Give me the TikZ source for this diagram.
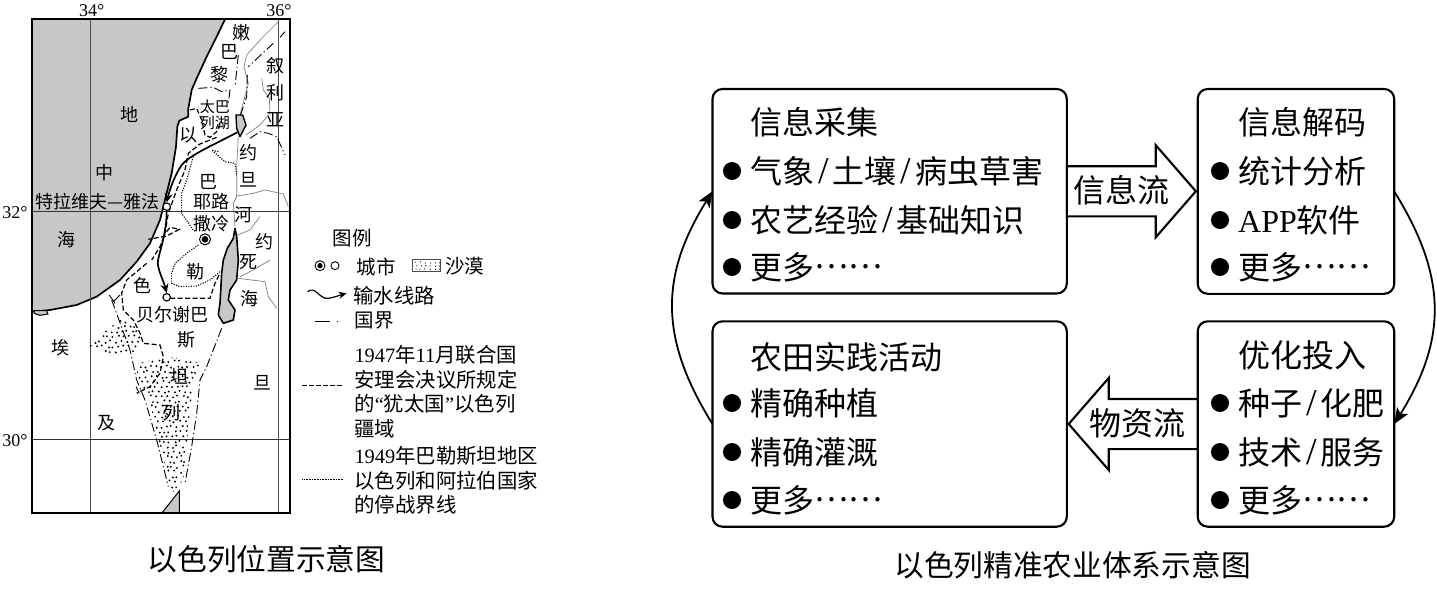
\documentclass[tikz,border=0pt]{standalone}
\usepackage{fontspec}
\usetikzlibrary{shapes.arrows,arrows.meta}
\setmainfont{Liberation Serif}
\newfontfamily\cjk{Noto Sans CJK SC}
\newcommand{\fs}[1]{\fontsize{#1}{#1}\selectfont\cjk}
\newcommand{\lat}[1]{{\fontspec{Liberation Serif}#1}}
\newcommand{\slsh}{\hspace{4pt}{\fontsize{38}{38}\selectfont\lat{/}}\hspace{4pt}}
\newcommand{\dotsx}{\raisebox{11pt}{……}}
\definecolor{sea}{gray}{0.78}
\definecolor{river}{gray}{0.5}
\tikzset{
 zmap/.style={shift={(20,0)},x=0.33333pt,y=-0.33333pt},
 zleg/.style={shift={(295,220)},x=0.33333pt,y=-0.33333pt},
 box/.style={draw,line width=2.1pt,rounded corners=10pt,anchor=north west,inner sep=0pt,outer sep=0pt},
 btxt/.style={anchor=west,inner sep=0pt,font=\fs{32}},
 bul/.style={circle,fill=black,inner sep=0pt,minimum size=18pt},
 flow/.style={draw,line width=2.1pt,fill=white,single arrow,single arrow tip angle=98,single arrow head extend=21pt,minimum height=129pt,text height=24pt,text depth=24pt,inner ysep=0pt,inner xsep=0pt,outer sep=0pt,font=\fs{32}},
 capt/.style={inner sep=0pt,font=\fs{29.7}},
 mlab/.style={inner sep=0pt,font=\fs{18}},
 mlabs/.style={inner sep=0pt,font=\fs{15}},
 leg/.style={inner sep=0pt,anchor=west,font=\fs{19.5}},
 legm/.style={leg,align=left,font=\fontsize{20.4}{24.5}\selectfont\cjk},
 deg/.style={inner sep=0pt,font=\fontsize{18}{18}\selectfont},
 bord/.style={line width=0.9pt,dash pattern=on 9pt off 3pt on 1.2pt off 3pt},
 part/.style={line width=1.2pt,dash pattern=on 5pt off 2.5pt},
 arm/.style={line width=1.1pt,dash pattern=on 1.1pt off 1.4pt},
 rvr/.style={line width=0.7pt,draw=river,line join=round},
 pipe/.style={line width=1.7pt},
 city/.style={circle,draw,line width=1.1pt,fill=white,inner sep=0pt,minimum size=7.5pt},
 curved/.style={line width=1.8pt,-{Stealth[length=16pt,width=13pt,inset=4pt]}},
}
\begin{document}
\begin{tikzpicture}[x=1pt,y=-1pt]
\useasboundingbox (0,0) rectangle (1437,594);
\fill[white] (0,0) rectangle (1437,594);
% ---------- map ----------
\begin{scope}[zmap]
 \fill[sea] (35,58) -- (615,58) -- (590,110) -- (560,170) -- (530,235) -- (515,270) -- (505,325) -- (505,350) -- (478,362) -- (472,380) -- (468,440) -- (455,520) -- (435,600) -- (420,660) -- (390,730) -- (350,785) -- (300,840) -- (230,890) -- (170,915) -- (90,930) -- (35,935) -- cycle;
 \draw[line width=1.7pt,line join=round] (615,58) -- (590,110) -- (560,170) -- (530,235) -- (515,270) -- (505,325) -- (505,350) -- (478,362) -- (472,380) -- (468,440) -- (455,520) -- (435,600) -- (420,660) -- (390,730) -- (350,785) -- (300,840) -- (230,890) -- (170,915) -- (90,930) -- (35,935);
 \draw[line width=1pt,fill=sea] (42,932) -- (80,932) -- (84,942) -- (60,946) -- (42,940) -- cycle;
 \draw[line width=1pt,fill=sea] (425,1540) -- (478,1473) -- (478,1540);
 % grid
 \draw[line width=1pt,draw=black!70] (210,58) -- (210,1540) (775,58) -- (775,1540);
 \draw[line width=0.8pt,draw=black!80] (35,633) -- (810,633) (35,1317) -- (810,1317);
 % rivers
 \draw[rvr] (775,65) -- (725,115) -- (680,165) -- (672,200) -- (685,250) -- (672,300) -- (660,345);
 \draw[rvr] (725,235) -- (730,270) -- (748,295) -- (750,340) -- (720,375) -- (678,405);
 \draw[rvr] (655,410) -- (650,500) -- (650,590) -- (640,610) -- (645,680);
 \draw[rvr] (650,588) -- (700,580) -- (735,570) -- (790,582) -- (805,620);
 \draw[rvr] (645,708) -- (690,690) -- (720,650);
 \draw[rvr] (660,830) -- (700,810) -- (750,780);
 \draw[rvr] (655,835) -- (735,845) -- (745,890) -- (770,925);
 % desert
 \begin{scope}
  \clip (205,1030) -- (300,960) -- (350,970) -- (365,1020) -- (345,1055) -- (280,1065) -- (205,1040) -- cycle
        (355,1090) -- (440,1070) -- (550,1090) -- (520,1150) -- (510,1230) -- (500,1340) -- (490,1440) -- (455,1480) -- (420,1340) -- (390,1210) -- (350,1130) -- cycle;
  \pgfmathsetseed{7}
  \foreach \i in {0,...,23}{\foreach \j in {0,...,36}{
   \pgfmathsetmacro{\px}{200+\i*16+mod(\j,2)*8+rnd*8-4}
   \pgfmathsetmacro{\py}{950+\j*15+rnd*8-4}
   \fill (\px,\py) circle[radius=3.2];
  }}
 \end{scope}
 % lakes
 \draw[line width=1.4pt,fill=sea,line join=round] (648,345) -- (668,345) -- (678,375) -- (660,410) -- (650,385) -- cycle;
 \draw[line width=1.6pt,fill=sea,line join=round] (645,685) -- (640,715) -- (622,745) -- (610,780) -- (605,820) -- (600,910) -- (595,945) -- (610,970) -- (640,960) -- (645,930) -- (625,900) -- (630,870) -- (650,840) -- (655,780) -- (650,710) -- cycle;
 % international borders
 \draw[bord] (795,95) -- (780,112) (760,130) -- (685,200) (682,225) -- (680,290) -- (660,350);
 \draw[bord] (690,415) -- (720,395) -- (745,400) -- (770,410) -- (795,465);
 \draw[bord] (535,265) -- (580,262) -- (605,275) -- (630,270) -- (625,310);
 \draw[bord] (655,165) -- (645,260);
 \draw[bord] (275,900) -- (330,1050) -- (350,1140) -- (375,1200) -- (410,1320) -- (445,1460);
 \draw[bord] (605,985) -- (560,1100) -- (540,1140) -- (530,1240) -- (515,1340) -- (495,1450);
 \draw[line width=0.9pt] (268,885) -- (285,910) (300,885) -- (280,905) (348,1160) -- (358,1180);
 % 1947 partition lines
 \draw[part] (510,330) -- (530,325) -- (545,360) -- (555,405) -- (570,412) -- (590,395) -- (605,360);
 \draw[part] (590,412) -- (540,432) -- (505,460) -- (495,510) -- (470,570) -- (445,640) -- (435,700) -- (420,740) -- (395,780);
 \draw[part] (440,695) -- (450,682) -- (478,688) -- (440,708) -- (385,718);
 \draw[part] (380,790) -- (320,840) -- (305,880) -- (310,930) -- (340,960) -- (360,1000) -- (370,1030) -- (420,1035) -- (430,1070) -- (420,1120) -- (390,1160) -- (350,1180);
 \draw[part] (450,895) -- (570,895) -- (585,850) -- (600,820);
 % 1949 armistice lines
 \draw[arm] (595,455) -- (575,450) -- (615,485) -- (645,490) -- (650,525);
 \draw[arm] (520,470) -- (500,540) -- (485,580) -- (485,640) -- (520,690);
 \draw[arm] (535,735) -- (500,760) -- (465,790) -- (455,820) -- (455,850) -- (480,860) -- (530,858) -- (570,840) -- (600,815);
 % cities
 \node[city] (telaviv) at (440,620) {};
 \node[city] (beersheba) at (440,892) {};
 \node[circle,draw,line width=1pt,fill=white,minimum size=11pt,inner sep=0pt] (jerusalem) at (555,718) {};
 \fill (jerusalem) circle[radius=10];
 % pipelines
 \coordinate (pa) at (652,397);
 \draw[pipe,-{Stealth[length=9pt,width=8pt]}] (pa) .. controls (570,440) and (510,465) .. (485,495) .. controls (465,525) and (450,565) .. (telaviv.north);
 \draw[pipe,-{Stealth[length=9pt,width=8pt]}] (telaviv.south) .. controls (440,720) and (405,780) .. (415,800) .. controls (420,825) and (430,840) .. (beersheba.north);
 % labels
 \node[mlab] (l1) at (665,97) {嫩};
 \node[mlab] (l2) at (630,155) {巴};
 \node[mlab] (l3) at (598,225) {黎};
 \node[mlab] (l4) at (765,197) {叙};
 \node[mlab] (l5) at (768,277) {利};
 \node[mlab] (l6) at (768,358) {亚};
 \node[mlabs] (l7) at (585,320) {太巴};
 \node[mlabs] (l8) at (585,370) {列湖};
 \node[mlab] (l9) at (505,405) {以};
 \node[mlab] (l10) at (327,343) {地};
 \node[mlab] (l11) at (685,458) {约};
 \node[mlab] (l12) at (685,540) {旦};
 \node[mlab] (l13) at (252,517) {中};
 \node[mlab] (l14) at (567,545) {巴};
 \node[mlab] (l15) at (573,605) {耶路};
 \node[mlab] (l16) at (573,670) {撒冷};
 \node[mlab] (l17) at (670,645) {河};
 \node[mlab] (l18) at (140,718) {海};
 \node[mlab] (l19) at (735,725) {约};
 \node[mlab] (l20) at (685,787) {死};
 \node[mlab] (l21) at (688,895) {海};
 \node[mlab] (l22) at (525,815) {勒};
 \node[mlab] (l23) at (367,855) {色};
 \node[mlab] (l24) at (458,943) {贝尔谢巴};
 \node[mlab] (l25) at (500,1020) {斯};
 \node[mlab] (l26) at (120,1042) {埃};
 \node[mlab] (l27) at (478,1130) {坦};
 \node[mlab] (l28) at (455,1238) {列};
 \node[mlab] (l29) at (727,1147) {旦};
 \node[mlab] (l30) at (260,1268) {及};
 \node[mlab,anchor=east] (l31) at (420,605) {特拉维夫—雅法};
 % frame
 \draw[line width=1.7pt] (35,58) rectangle (810,1540);
 \node[deg] (d34) at (215,32) {34°};
 \node[deg] (d36) at (777,32) {36°};
 \node[deg] (d32) at (-15,637) {32°};
 \node[deg] (d30) at (-15,1321) {30°};
\end{scope}
% ---------- legend ----------
\begin{scope}[zleg]
 \node[leg] (lg0) at (112,55) {图例};
 \node[circle,draw,line width=0.9pt,minimum size=10pt,inner sep=0pt] (lg1) at (75,137) {};
 \fill (lg1) circle[radius=8];
 \node[circle,draw,line width=0.9pt,minimum size=8pt,inner sep=0pt] (lg2) at (120,137) {};
 \node[leg] (lg3) at (185,140) {城市};
 \draw[line width=0.7pt,draw=black!70] (352,118) rectangle (437,155);
 \begin{scope}
  \clip (352,118) rectangle (437,155);
  \pgfmathsetseed{3}
  \foreach \i in {0,...,5}{\foreach \j in {0,...,2}{
   \pgfmathsetmacro{\px}{360+\i*14+rnd*6}
   \pgfmathsetmacro{\py}{125+\j*10+rnd*4}
   \fill (\px,\py) circle[radius=1.9];
  }}
 \end{scope}
 \node[leg] (lg4) at (450,137) {沙漠};
 \coordinate (wa) at (38,215); \coordinate (wb) at (155,220);
 \draw[line width=1.2pt,-{Stealth[length=8pt,width=7pt]}] (wa) .. controls (60,195) and (75,240) .. (100,235) .. controls (120,232) and (135,225) .. (wb);
 \node[legm] (lg5) at (175,228) {输水线路};
 \draw[line width=1pt] (60,305) -- (105,305);
 \fill (128,305) circle[radius=1.8];
 \node[leg] (lg6) at (178,302) {国界};
 \draw[line width=1.2pt,dash pattern=on 5pt off 2pt] (22,497) -- (145,497);
 \node[legm] (lg7) at (178,515) {\lat{1947}年\lat{11}月联合国\\安理会决议所规定\\的\lat{“}犹太国\lat{”}以色列\\疆域};
 \draw[line width=0.9pt,dash pattern=on 0.8pt off 0.8pt] (22,777) -- (145,777);
 \node[legm] (lg8) at (178,782) {\lat{1949}年巴勒斯坦地区\\以色列和阿拉伯国家\\的停战界线};
\end{scope}
\node[capt] (cap1) at (266.5,559) {以色列位置示意图};
% ---------- flow diagram ----------
\node[box,minimum width=354.3pt,minimum height=204.5pt] (b1) at (712.5,89) {};
\node[box,minimum width=196.5pt,minimum height=204.8pt] (b2) at (1197.7,89) {};
\node[box,minimum width=196.5pt,minimum height=205.4pt] (b3) at (1197.7,321.3) {};
\node[box,minimum width=354.3pt,minimum height=205.4pt] (b4) at (712.5,321.3) {};
\node[flow,anchor=tail] (f1) at (b1.east) {\hspace*{3pt}\raisebox{-11.5pt}{信息流}};
\node[flow,anchor=tail,shape border rotate=180] (f2) at (b3.west) {\hspace*{-14pt}\raisebox{-11.5pt}{物资流}};
\draw[curved] (b2.east) .. controls +(53,85) and +(53,-85) .. (b3.east);
\draw[curved] (b4.west) .. controls +(-53,-85) and +(-53,85) .. (b1.west);
\node[btxt] (t11) at (750,122) {信息采集};
\node[bul] (c12) at (732,171) {}; \node[btxt] (t12) at (750,171) {气象\slsh 土壤\slsh 病虫草害};
\node[bul] (c13) at (732,220) {}; \node[btxt] (t13) at (750,220) {农艺经验\slsh 基础知识};
\node[bul] (c14) at (732,267) {}; \node[btxt] (t14) at (750,267) {更多\dotsx};
\node[btxt] (t21) at (1238,122) {信息解码};
\node[bul] (c22) at (1220,171) {}; \node[btxt] (t22) at (1238,171) {统计分析};
\node[bul] (c23) at (1220,220) {}; \node[btxt] (t23) at (1238,220) {\lat{APP}软件};
\node[bul] (c24) at (1220,267) {}; \node[btxt] (t24) at (1238,267) {更多\dotsx};
\node[btxt] (t31) at (1238,355) {优化投入};
\node[bul] (c32) at (1220,403) {}; \node[btxt] (t32) at (1238,403) {种子\slsh 化肥};
\node[bul] (c33) at (1220,452) {}; \node[btxt] (t33) at (1238,452) {技术\slsh 服务};
\node[bul] (c34) at (1220,500) {}; \node[btxt] (t34) at (1238,500) {更多\dotsx};
\node[btxt] (t41) at (750,357) {农田实践活动};
\node[bul] (c42) at (732,403) {}; \node[btxt] (t42) at (750,403) {精确种植};
\node[bul] (c43) at (732,452) {}; \node[btxt] (t43) at (750,452) {精确灌溉};
\node[bul] (c44) at (732,500) {}; \node[btxt] (t44) at (750,500) {更多\dotsx};
\node[capt] (cap2) at (1072.5,565) {以色列精准农业体系示意图};
\end{tikzpicture}
\end{document}
